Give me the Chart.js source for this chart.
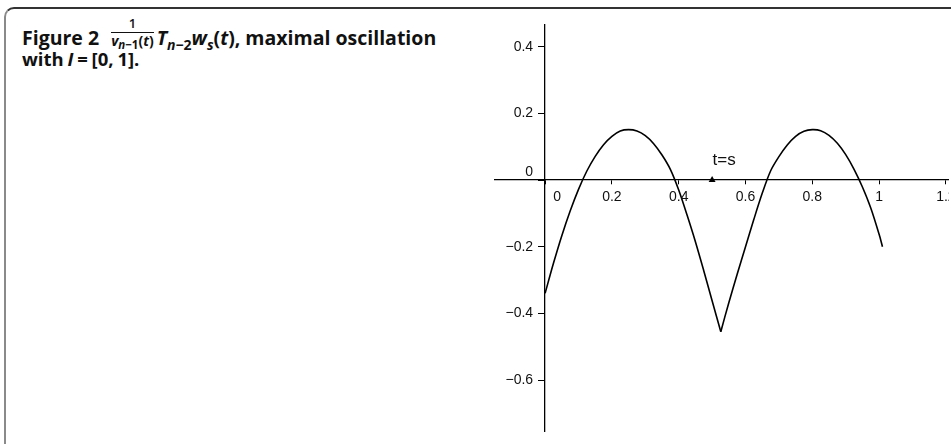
<!DOCTYPE html>
<html>
<head>
<meta charset="utf-8">
<script src="https://cdn.jsdelivr.net/npm/chart.js@4.4.0/dist/chart.umd.min.js"></script>
<style>
  html, body { margin: 0; padding: 0; width: 951px; height: 444px; overflow: hidden; background: #fff; }
  .frame { position: absolute; left: 4px; top: 7px; width: 1000px; height: 500px;
           border-top: 2px solid #333; border-left: 2px solid #8a8a8a; border-top-left-radius: 10px; }
  .cap { position: absolute; left: 22px; font-family: "Open Sans", sans-serif; font-weight: 700;
         font-size: 19.5px; line-height: 22px; color: #111; white-space: nowrap; }
  .cap1 { top: 27px; }
  .cap2 { top: 48px; word-spacing: -1px; font-size: 18.5px; }
  .cap sub { font-size: 14px; vertical-align: -5px; line-height: 0; }
  .frac { display: inline-block; vertical-align: -1px; text-align: center; font-size: 14px; line-height: 13px;
          margin: -14px 3px 0 7px; }
  .frac .num { display: block; border-bottom: 1.3px solid #111; padding: 0 1px 2px; font-weight: 600; font-size: 13px; }
  .frac .den { display: block; padding-top: 1px; }
  .frac .den sub { font-size: 11.5px; vertical-align: -3px; }
  .plot { position: absolute; left: 494px; top: 24px; width: 455px; height: 408px; overflow: hidden; }
</style>
</head>
<body>
<div class="frame"></div>
<div class="cap cap1">Figure 2 <span class="frac"><span class="num">1</span><span class="den"><i>v</i><sub><i>n</i>−1</sub>(<i>t</i>)</span></span><i>T</i><sub><i>n</i>−2</sub><i>w</i><sub><i>s</i></sub>(<i>t</i>), maximal oscillation</div>
<div class="cap cap2">with <i>I</i> = [0, 1].</div>
<div class="plot"><canvas id="chart" width="490" height="408"></canvas></div>
<script>
// curve: arc before the cusp at t = s and arc after it
const ARC1_T = [0, 0.025, 0.05, 0.075, 0.1, 0.125, 0.15, 0.175, 0.2, 0.225, 0.25, 0.275, 0.3, 0.325, 0.35, 0.375, 0.4, 0.425, 0.45, 0.475, 0.5, 0.526];
const ARC1_W = [-0.340, -0.250, -0.167, -0.093, -0.028, 0.027, 0.071, 0.106, 0.131, 0.147, 0.151, 0.147, 0.133, 0.109, 0.075, 0.032, -0.030, -0.105, -0.185, -0.272, -0.362, -0.455];
const ARC2_T = [0.526, 0.55, 0.575, 0.6, 0.625, 0.65, 0.675, 0.7, 0.725, 0.75, 0.775, 0.8, 0.825, 0.85, 0.875, 0.9, 0.925, 0.95, 0.975, 1.0, 1.01];
const ARC2_W = [-0.455, -0.368, -0.283, -0.200, -0.118, -0.040, 0.027, 0.070, 0.105, 0.131, 0.146, 0.151, 0.148, 0.134, 0.110, 0.076, 0.032, -0.021, -0.084, -0.163, -0.200];

const MARK_T = 0.5;          // t = s
const MARK_LABEL = "t=s";

const X_TICKS = [0, 0.2, 0.4, 0.6, 0.8, 1, 1.2];
const X_TICK_LABELS = ["0", "0.2", "0.4", "0.6", "0.8", "1", "1.2"];
const Y_TICKS = [-0.6, -0.4, -0.2, 0, 0.2, 0.4];
const Y_TICK_LABELS = ["−0.6", "−0.4", "−0.2", "0", "0.2", "0.4"];

const TICK_FONT = "14px 'Liberation Sans'";

const pts = (xs, ys) => xs.map((x, i) => ({ x: x, y: ys[i] }));

// axes cross at the origin; their labels are set beside the ticks like in the figure
const axisLabels = {
  id: "axisLabels",
  afterDraw(chart) {
    const { ctx, scales: { x, y } } = chart;
    const x0 = x.getPixelForValue(0), y0 = y.getPixelForValue(0);
    ctx.save();
    ctx.fillStyle = "#111";
    ctx.font = TICK_FONT;
    ctx.textBaseline = "middle";
    ctx.textAlign = "center";
    X_TICKS.forEach((v, i) => {
      const px = x.getPixelForValue(v) + (v === 0 ? 12 : 0);
      ctx.fillText(X_TICK_LABELS[i], px, y0 + 17);
    });
    ctx.textAlign = "right";
    Y_TICKS.forEach((v, i) => {
      const py = y.getPixelForValue(v) - (v === 0 ? 8 : 0);
      ctx.fillText(Y_TICK_LABELS[i], x0 - 12, py);
    });
    ctx.textAlign = "center";
    ctx.font = "17px 'Liberation Sans'";
    ctx.fillText(MARK_LABEL, x.getPixelForValue(MARK_T + 0.036), y.getPixelForValue(0.06));
    ctx.restore();
  }
};

new Chart(document.getElementById("chart"), {
  type: "line",
  data: {
    datasets: [
      { data: pts(ARC1_T, ARC1_W), borderColor: "#000", borderWidth: 1.6, pointRadius: 0, tension: 0.3 },
      { data: pts(ARC2_T, ARC2_W), borderColor: "#000", borderWidth: 1.6, pointRadius: 0, tension: 0.3 },
      { data: [{ x: MARK_T, y: 0 }], showLine: false, pointStyle: "triangle", pointRadius: 4,
        backgroundColor: "#000", borderColor: "#000", borderWidth: 0 }
    ]
  },
  options: {
    responsive: false,
    animation: false,
    events: [],
    layout: { padding: 0, autoPadding: false },
    plugins: { legend: { display: false }, tooltip: { enabled: false } },
    scales: {
      x: {
        type: "linear", min: -0.153, max: 1.314, position: { y: 0 },
        afterBuildTicks: s => { s.ticks = X_TICKS.map(v => ({ value: v })); },
        ticks: { display: false },
        grid: { drawOnChartArea: false, tickLength: 4, color: "#000", tickWidth: 1 },
        border: { color: "#000", width: 1.3 }
      },
      y: {
        type: "linear", min: -0.756, max: 0.468, position: { x: 0 },
        afterBuildTicks: s => { s.ticks = Y_TICKS.map(v => ({ value: v })); },
        ticks: { display: false },
        grid: { drawOnChartArea: false, tickLength: 6, color: "#000", tickWidth: 1 },
        border: { color: "#000", width: 1.3 }
      }
    }
  },
  plugins: [axisLabels]
});
</script>
</body>
</html>
